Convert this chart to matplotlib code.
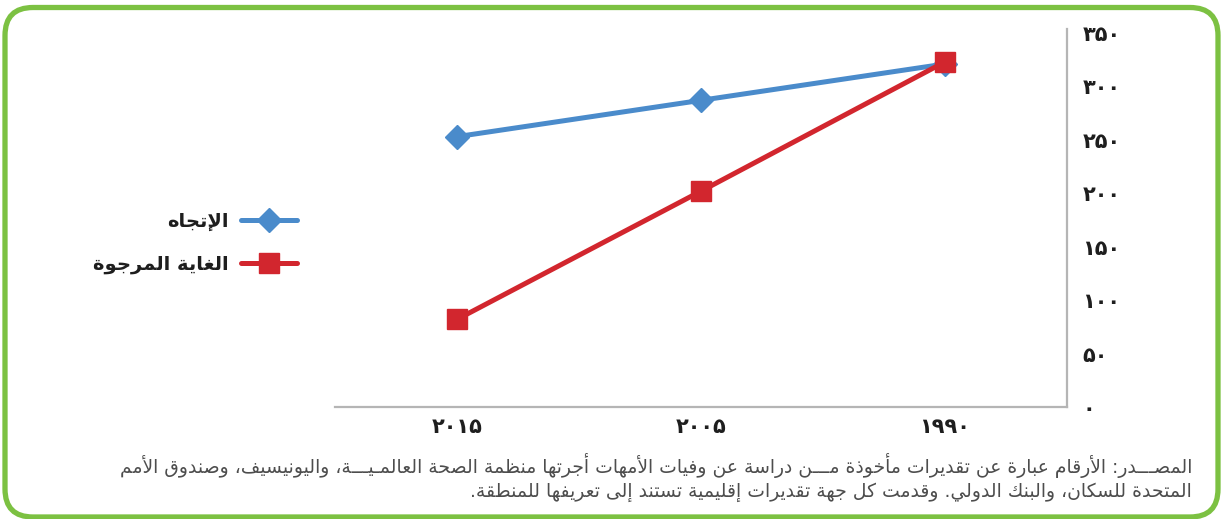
import matplotlib
matplotlib.use('Agg')
import matplotlib.pyplot as plt
from matplotlib.patches import FancyBboxPatch
from matplotlib.transforms import IdentityTransform

# --- data -------------------------------------------------------------
years = ['2015', '2005', '1990']
trend = [253, 287, 321]
target = [82, 202, 323]
y_ticks = [0, 50, 100, 150, 200, 250, 300, 350]

label_trend = 'الإتجاه'
label_target = 'الغاية المرجوة'
source_lines = [
    'المصـــدر: الأرقام عبارة عن تقديرات مأخوذة مـــن دراسة عن وفيات الأمهات أجرتها منظمة الصحة العالمـيـــة، واليونيسيف، وصندوق الأمم',
    'المتحدة للسكان، والبنك الدولي. وقدمت كل جهة تقديرات إقليمية تستند إلى تعريفها للمنطقة.',
]

BLUE = '#4a8bcb'
RED = '#d2262e'
GREEN = '#7cc142'
AXIS = '#b5b5b5'

# --- minimal arabic shaping (matplotlib has no bidi / joining) ---------
DUAL = {c: s for c, s in zip('ئبتثجحخسشصضطظعغفقكلمنهي',
                             [0xFE89, 0xFE8F, 0xFE95, 0xFE99, 0xFE9D, 0xFEA1, 0xFEA5,
                              0xFEB1, 0xFEB5, 0xFEB9, 0xFEBD, 0xFEC1, 0xFEC5, 0xFEC9,
                              0xFECD, 0xFED1, 0xFED5, 0xFED9, 0xFEDD, 0xFEE1, 0xFEE5,
                              0xFEE9, 0xFEF1])}
RIGHT = {c: s for c, s in zip('آأؤإاةدذرزوى',
                              [0xFE81, 0xFE83, 0xFE85, 0xFE87, 0xFE8D, 0xFE93, 0xFEA9,
                               0xFEAB, 0xFEAD, 0xFEAF, 0xFEED, 0xFEEF])}
LAM_ALEF = {'آ': 0xFEF5, 'أ': 0xFEF7, 'إ': 0xFEF9, 'ا': 0xFEFB}
TATWEEL = '\u0640'


def shape_ar(text):
    tokens = []
    i = 0
    while i < len(text):
        c = text[i]
        if c == 'ل' and i + 1 < len(text) and text[i + 1] in LAM_ALEF:
            tokens.append((LAM_ALEF[text[i + 1]], 'R'))
            i += 2
            continue
        if c in DUAL:
            tokens.append((DUAL[c], 'D'))
        elif c in RIGHT:
            tokens.append((RIGHT[c], 'R'))
        elif c == TATWEEL:
            tokens.append((TATWEEL, 'T'))
        else:
            tokens.append((c, None))
        i += 1

    out = []
    for k, (base, kind) in enumerate(tokens):
        if kind is None:
            out.append(base)
            continue
        prev_j = k > 0 and tokens[k - 1][1] in ('D', 'T')
        next_j = kind in ('D', 'T') and k + 1 < len(tokens) and tokens[k + 1][1] is not None
        if kind == 'T':
            out.append(TATWEEL)
        elif kind == 'R':
            out.append(chr(base + (1 if prev_j else 0)))
        else:
            idx = 3 if (prev_j and next_j) else 1 if prev_j else 2 if next_j else 0
            out.append(chr(base + idx))
    return ''.join(reversed(out))


PERSIAN = str.maketrans('0123456789', '۰۱۲۳۴۵۶۷۸۹')


def fa_num(v):
    return str(v).translate(PERSIAN)


plt.rcParams['font.family'] = ['DejaVu Sans']

fig = plt.figure(figsize=(12.22, 5.19), dpi=100)
ax = fig.add_axes([335 / 1222, 1 - 407 / 519, (1067 - 335) / 1222, (407 - 29) / 519])

x = range(len(years))
l1, = ax.plot(x, trend, color=BLUE, lw=3.6, marker='D', ms=12,
              mec=BLUE, solid_capstyle='round', zorder=3)
l2, = ax.plot(x, target, color=RED, lw=3.6, marker='s', ms=15,
              mec=RED, solid_capstyle='round', zorder=4)

ax.set_xlim(-0.5, len(years) - 0.5)
ax.set_ylim(0, 350 * 378 / 374)
ax.set_xticks(list(x))
ax.set_xticklabels([fa_num(y) for y in years], fontsize=15, fontweight='bold',
                   color='#1e1e1e')
ax.set_yticks(y_ticks)
ax.set_yticklabels([fa_num(v) for v in y_ticks], fontsize=15, fontweight='bold',
                   color='#1e1e1e')
ax.yaxis.tick_right()
ax.tick_params(axis='both', length=0)
ax.tick_params(axis='y', pad=11)
ax.tick_params(axis='x', pad=7)
for side in ('left', 'top'):
    ax.spines[side].set_visible(False)
for side in ('right', 'bottom'):
    ax.spines[side].set_color(AXIS)
    ax.spines[side].set_linewidth(1.6)

leg = fig.legend([l1, l2], [shape_ar(label_trend), shape_ar(label_target)],
                 loc='center right', bbox_to_anchor=(297 / 1222, 1 - 243 / 519),
                 frameon=False, markerfirst=False, handlelength=2.9,
                 handletextpad=0.6, labelspacing=1.25, borderpad=0, borderaxespad=0,
                 prop={'size': 14, 'weight': 'bold'})
for t in leg.get_texts():
    t.set_color('#1e1e1e')

# source note, right aligned
for i, line in enumerate(source_lines):
    fig.text(1192 / 1222, 1 - (465 + 27 * i) / 519, shape_ar(line),
             ha='right', va='center', fontsize=13.5, color='#4d4d4d')

# rounded green frame
frame = FancyBboxPatch((5, 2), 1213, 509.5,
                       boxstyle='round,pad=0,rounding_size=28',
                       transform=IdentityTransform(), facecolor='none',
                       edgecolor=GREEN, linewidth=3.8, zorder=10)
fig.patches.append(frame)

fig.savefig('out.png', dpi=100)
